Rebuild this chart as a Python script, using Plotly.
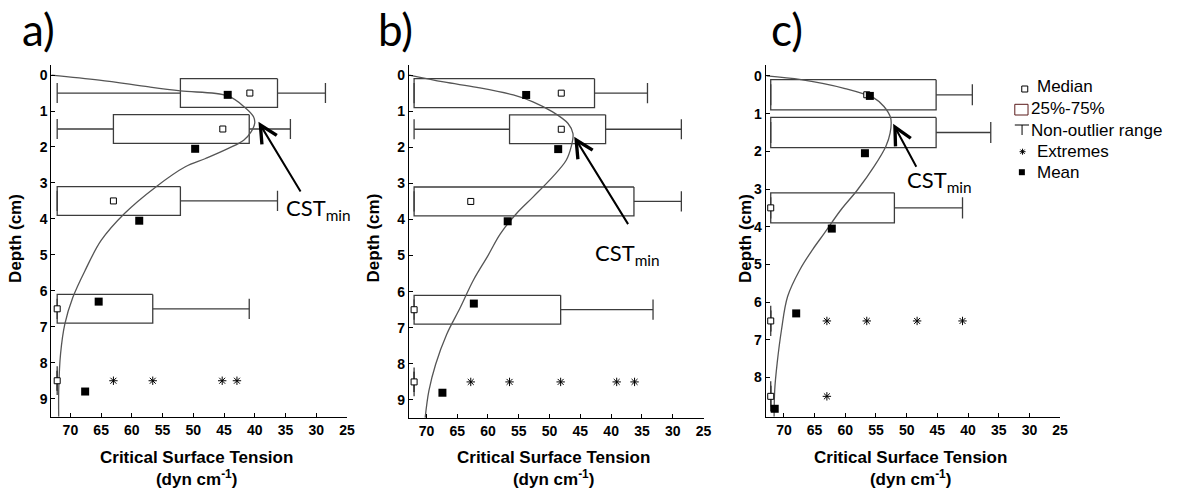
import plotly.graph_objects as go

# ---------------- data ----------------
box_depth = [0.5, 1.5, 3.5, 6.5, 8.5]

# panel a
a_q25 = [36.3, 40.9, 52.1, 56.6, 72.15]
a_q75 = [52.1, 63.0, 72.15, 72.15, 72.15]
a_wlo = [28.5, 34.2, 36.3, 40.9, 72.15]
a_whi = [72.15, 72.15, 72.15, 72.15, 72.15]
a_median = [40.8, 45.2, 63.0, 72.15, 72.15]
a_mean_depth = [0.55, 2.05, 4.05, 6.3, 8.8]
a_mean = [44.4, 49.7, 58.8, 65.4, 67.6]
a_ext_depth = [8.5, 8.5, 8.5, 8.5]
a_ext = [63.0, 56.6, 45.3, 42.9]
a_curve_cst = [73.1, 65.3, 57.2, 52.1, 44.4, 41.6, 40.2, 40.0, 40.6, 41.8, 44.3, 48.0,
               51.3, 56.1, 61.2, 65.0, 67.6, 69.6, 70.9, 71.6, 71.9, 71.9]
a_curve_depth = [0, 0.14, 0.33, 0.44, 0.58, 0.9, 1.16, 1.33, 1.58, 1.81, 2.04, 2.32,
                 2.55, 3.11, 3.85, 4.6, 5.43, 6.18, 6.92, 7.75, 8.77, 9.5]

# panel b
b_q25 = [42.7, 40.9, 36.3, 48.2, 72.0]
b_q75 = [72.0, 56.5, 72.0, 72.0, 72.0]
b_wlo = [34.1, 28.6, 28.6, 33.2, 72.0]
b_whi = [72.0, 72.0, 72.0, 72.0, 72.0]
b_median = [48.1, 48.1, 62.8, 72.0, 72.0]
b_mean_depth = [0.55, 2.05, 4.05, 6.33, 8.8]
b_mean = [53.8, 48.6, 56.8, 62.3, 67.4]
b_ext_depth = [8.5, 8.5, 8.5, 8.5, 8.5]
b_ext = [62.8, 56.5, 48.2, 39.1, 36.2]
b_curve_cst = [72.8, 67.2, 61.8, 55.9, 52.7, 49.5, 47.0, 46.2, 46.5, 47.3, 49.5, 52.7,
               55.4, 58.0, 60.0, 62.4, 64.5, 66.7, 68.5, 69.6, 70.2]
b_curve_depth = [0, 0.19, 0.34, 0.55, 0.74, 1.02, 1.34, 1.62, 1.99, 2.36, 2.82, 3.38,
                 3.84, 4.40, 5.0, 5.69, 6.44, 7.18, 8.01, 8.75, 9.49]

# panel c
c_q25 = [45.2, 45.2, 52.0, 72.15, 72.15]
c_q75 = [72.15, 72.15, 72.15, 72.15, 72.15]
c_wlo = [39.3, 36.3, 40.9, 72.15, 72.15]
c_whi = [72.15, 72.15, 72.15, 72.15, 72.15]
c_median = [56.5, None, 72.15, 72.15, 72.15]
c_mean_depth = [0.53, 2.05, 4.05, 6.3, 8.83]
c_mean = [56.0, 56.8, 62.2, 68.0, 71.5]
c_ext_depth = [6.5, 6.5, 6.5, 6.5, 8.5]
c_ext = [63.0, 56.5, 48.3, 40.9, 63.0]
c_curve_cst = [72.8, 67.2, 60.2, 55.3, 53.7, 52.6, 52.7, 53.4, 55.3, 58.0, 60.7, 63.4,
               65.3, 67.4, 69.4, 70.4, 71.1, 71.5, 71.6]
c_curve_depth = [0, 0.1, 0.33, 0.59, 0.81, 1.12, 1.52, 1.87, 2.4, 3.02, 3.55, 4.17,
                 4.6, 5.14, 5.85, 6.74, 7.62, 8.33, 9.04]

panel_labels = ["a)", "b)", "c)"]
x_ticks = [70, 65, 60, 55, 50, 45, 40, 35, 30, 25]
y_ticks_ab = [0, 1, 2, 3, 4, 5, 6, 7, 8, 9]
y_ticks_c = [0, 1, 2, 3, 4, 5, 6, 7, 8]
x_title = "Critical Surface Tension"
x_unit = "(dyn cm<sup>-1</sup>)"
y_title = "Depth (cm)"
legend_labels = ["Median", "25%-75%", "Non-outlier range", "Extremes", "Mean"]

# ---------------- styling ----------------
W, H = 1187, 491
BOX_HALF = 0.4
CAP_HALF = 0.28
BOX_COLOR = "#3c3c3c"
CURVE_COLOR = "#555555"
TICK_FONT = dict(family="Liberation Sans, Arial", size=14, color="black")


def bold(vals):
    return ["<b>%s</b>" % v for v in vals]


panels = [
    dict(q25=a_q25, q75=a_q75, wlo=a_wlo, whi=a_whi, med=a_median, md=a_mean_depth, mean=a_mean,
         ed=a_ext_depth, ext=a_ext, cc=a_curve_cst, cd=a_curve_depth,
         px=(51.7, 349.3), py=(65, 416.7), xr=[73.1, 25], yr=[9.5, -0.28], yt=y_ticks_ab,
         tip=(39.4, 1.30), tail=(32.4, 3.28), txt=(35.2, 3.72),
         lab=(20, 29), ytitle_x=16),
    dict(q25=b_q25, q75=b_q75, wlo=b_wlo, whi=b_whi, med=b_median, md=b_mean_depth, mean=b_mean,
         ed=b_ext_depth, ext=b_ext, cc=b_curve_cst, cd=b_curve_depth,
         px=(411.7, 708.3), py=(65, 418), xr=[72.84, 25], yr=[9.5, -0.28], yt=y_ticks_ab,
         tip=(46.0, 1.71), tail=(37.1, 4.17), txt=(43.0, 4.95),
         lab=(379, 29), ytitle_x=377),
    dict(q25=c_q25, q75=c_q75, wlo=c_wlo, whi=c_whi, med=c_median, md=c_mean_depth, mean=c_mean,
         ed=c_ext_depth, ext=c_ext, cc=c_curve_cst, cd=c_curve_depth,
         px=(770.7, 1067.3), py=(65, 416.7), xr=[73.0, 25], yr=[9.04, -0.29], yt=y_ticks_c,
         tip=(52.2, 1.27), tail=(48.3, 2.45), txt=(50.2, 2.80),
         lab=(774, 29), ytitle_x=751),
]

fig = go.Figure()
annotations = []
layout_axes = {}

for i, p in enumerate(panels):
    n = "" if i == 0 else str(i + 1)
    xref, yref = "x" + n, "y" + n
    # boxes + whiskers as line segments derived from the data
    bx, by = [], []
    for d, q25, q75, wlo, whi in zip(box_depth, p["q25"], p["q75"], p["wlo"], p["whi"]):
        bx += [q25, q75, q75, q25, q25, None]
        by += [d - BOX_HALF, d - BOX_HALF, d + BOX_HALF, d + BOX_HALF, d - BOX_HALF, None]
        bx += [wlo, q25, None, q75, whi, None]
        by += [d, d, None, d, d, None]
        bx += [wlo, wlo, None, whi, whi, None]
        by += [d - CAP_HALF, d + CAP_HALF, None, d - CAP_HALF, d + CAP_HALF, None]
    fig.add_trace(go.Scatter(x=bx, y=by, mode="lines", xaxis=xref, yaxis=yref,
                             line=dict(color=BOX_COLOR, width=1.3), hoverinfo="skip",
                             showlegend=False))
    # curve
    fig.add_trace(go.Scatter(x=p["cc"], y=p["cd"], mode="lines", xaxis=xref, yaxis=yref,
                             line=dict(color=CURVE_COLOR, width=1.3, shape="spline", smoothing=1.0),
                             showlegend=False))
    # extremes
    fig.add_trace(go.Scatter(x=p["ext"], y=p["ed"], mode="markers", xaxis=xref, yaxis=yref,
                             marker=dict(symbol="asterisk-open", size=7, color="black",
                                         line=dict(color="black", width=1)),
                             showlegend=False))
    # medians
    fig.add_trace(go.Scatter(x=p["med"], y=box_depth, mode="markers", xaxis=xref, yaxis=yref,
                             marker=dict(symbol="square", size=6, color="white",
                                         line=dict(color="black", width=1)),
                             showlegend=False, cliponaxis=False))
    # means
    fig.add_trace(go.Scatter(x=p["mean"], y=p["md"], mode="markers", xaxis=xref, yaxis=yref,
                             marker=dict(symbol="square", size=8, color="black",
                                         line=dict(width=0)),
                             showlegend=False, cliponaxis=False))

    x0, x1 = p["px"]
    y0, y1 = p["py"]
    layout_axes["xaxis" + n] = dict(
        domain=[x0 / W, x1 / W], anchor=yref, range=p["xr"],
        tickmode="array", tickvals=x_ticks, ticktext=bold(x_ticks),
        ticks="inside", ticklen=4, tickwidth=1,
        tickcolor="black", showline=True, linecolor="black", linewidth=1,
        showgrid=False, zeroline=False, tickfont=TICK_FONT, fixedrange=True)
    layout_axes["yaxis" + n] = dict(
        domain=[1 - y1 / H, 1 - y0 / H], anchor=xref, range=p["yr"],
        tickmode="array", tickvals=p["yt"], ticktext=bold(p["yt"]),
        ticks="inside", ticklen=4, tickwidth=1,
        tickcolor="black", showline=True, linecolor="black", linewidth=1,
        showgrid=False, zeroline=False, tickfont=TICK_FONT, fixedrange=True)

    # arrow and CST label
    annotations.append(dict(x=p["tip"][0], y=p["tip"][1], ax=p["tail"][0], ay=p["tail"][1],
                            xref=xref, yref=yref, axref=xref, ayref=yref, text="",
                            showarrow=True, arrowhead=5, arrowsize=1.7, arrowwidth=2,
                            arrowcolor="black", standoff=0, startstandoff=0))
    annotations.append(dict(x=p["txt"][0], y=p["txt"][1], xref=xref, yref=yref,
                            text="CST<sub>min</sub>", showarrow=False, xanchor="left",
                            yanchor="middle", font=dict(family="Lato", size=22, color="black")))
    # panel label
    annotations.append(dict(x=p["lab"][0] / W, y=1 - p["lab"][1] / H, xref="paper", yref="paper",
                            text=panel_labels[i], showarrow=False, xanchor="left",
                            yanchor="middle", font=dict(family="Lato", size=44, color="black")))
    # axis titles
    annotations.append(dict(x=(x0 + x1) / 2 / W - 0.002, y=1 - 468 / H, xref="paper", yref="paper",
                            text="<b>" + x_title + "</b><br><b>" + x_unit + "</b>",
                            showarrow=False, xanchor="center", yanchor="middle",
                            font=dict(family="Liberation Sans, Arial", size=17, color="black")))
    annotations.append(dict(x=p["ytitle_x"] / W, y=1 - 238 / H, xref="paper", yref="paper",
                            text="<b>" + y_title + "</b>", textangle=-90,
                            showarrow=False, xanchor="center", yanchor="middle",
                            font=dict(family="Liberation Sans, Arial", size=17, color="black")))

# ---------------- legend (drawn on a pixel-scaled helper axis) ----------------
leg_y = [86, 109, 130, 151, 172]
leg_text_x = [1041.7, 1036, 1036, 1041.7, 1041.7]
for lab, ly, lx in zip(legend_labels, leg_y, leg_text_x):
    annotations.append(dict(x=lx / W, y=1 - ly / H, xref="paper", yref="paper", text=lab,
                            showarrow=False, xanchor="left", yanchor="middle",
                            font=dict(family="Liberation Sans, Arial", size=17, color="black")))

fig.add_trace(go.Scatter(x=[1031.7], y=[89], mode="markers", xaxis="x4", yaxis="y4",
                         marker=dict(symbol="square", size=6, color="white",
                                     line=dict(color="black", width=1)), showlegend=False))
fig.add_trace(go.Scatter(x=[1029.5], y=[151.7], mode="markers", xaxis="x4", yaxis="y4",
                         marker=dict(symbol="asterisk-open", size=5, color="black",
                                     line=dict(color="black", width=1)), showlegend=False))
fig.add_trace(go.Scatter(x=[1028.8], y=[172.2], mode="markers", xaxis="x4", yaxis="y4",
                         marker=dict(symbol="square", size=6, color="black"), showlegend=False))
shapes = [
    dict(type="rect", xref="x4", yref="y4", x0=1021.7, x1=1035, y0=104.3, y1=115,
         line=dict(color="#5a1a1a", width=1)),
    dict(type="line", xref="x4", yref="y4", x0=1021.7, x1=1036, y0=125, y1=125,
         line=dict(color="black", width=1)),
    dict(type="line", xref="x4", yref="y4", x0=1029, x1=1029, y0=125, y1=135,
         line=dict(color="black", width=1)),
]
layout_axes["xaxis4"] = dict(domain=[0, 1], range=[0, W], visible=False, anchor="y4",
                             fixedrange=True)
layout_axes["yaxis4"] = dict(domain=[0, 1], range=[H, 0], visible=False, anchor="x4",
                             fixedrange=True)

fig.update_layout(
    width=W, height=H, margin=dict(l=0, r=0, t=0, b=0),
    paper_bgcolor="white", plot_bgcolor="rgba(0,0,0,0)",
    annotations=annotations, shapes=shapes, showlegend=False,
    **layout_axes,
)

fig.write_html("out.html", config={"displayModeBar": False})
